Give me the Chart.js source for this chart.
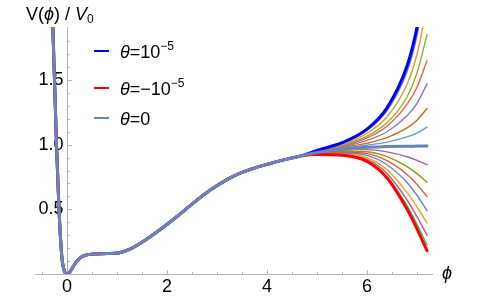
<!DOCTYPE html>
<html>
<head>
<meta charset="utf-8">
<script src="https://cdn.jsdelivr.net/npm/chart.js@4.4.1/dist/chart.umd.min.js"></script>
<style>
  html, body { margin: 0; padding: 0; background: #fff; }
  canvas { display: block; }
</style>
</head>
<body>
<canvas id="chart" width="488" height="299"></canvas>
<script>
// shared part of every curve (theta has no visible effect here)
const basePhi = [-0.30, -0.27, -0.25, -0.23, -0.21, -0.185, -0.16, -0.13, -0.10, -0.07, -0.04, 0,
  0.06, 0.12, 0.2, 0.3, 0.4, 0.55, 0.8, 1.05, 1.25, 1.5, 1.85, 2.2, 2.5, 2.85, 3.2, 3.5, 3.85, 4.05, 4.4, 4.7];
const baseV = [2.1, 1.75, 1.5, 1.25, 1.0, 0.75, 0.5, 0.28, 0.12, 0.045, 0.012, 0,
  0.018, 0.055, 0.10, 0.135, 0.148, 0.155, 0.158, 0.165, 0.19, 0.245, 0.34, 0.445, 0.54, 0.645, 0.73, 0.785, 0.832, 0.853, 0.888, 0.915];

// where the curves fan out
const tailPhi = [5.0, 5.5, 6.0, 6.4, 6.8, 7.0, 7.2];
const tailZero = [0.94, 0.965, 0.98, 0.985, 0.988, 0.989, 0.99];
const tailPlus = [0.955, 1.015, 1.12, 1.285, 1.608, 1.909, 2.39];
const tailMinus = [0.925, 0.918, 0.87, 0.742, 0.502, 0.349, 0.18];

// the 15 thin curves, theta from 1e-5 down to -1e-5
const fanTails = [
  [0.954, 1.011, 1.11, 1.263, 1.564, 1.843, 2.29],
  [0.952, 1.004, 1.088, 1.216, 1.466, 1.699, 2.07],
  [0.95, 0.996, 1.066, 1.169, 1.369, 1.554, 1.85],
  [0.948, 0.991, 1.053, 1.143, 1.311, 1.444, 1.65],
  [0.946, 0.984, 1.033, 1.10, 1.223, 1.32, 1.47],
  [0.944, 0.977, 1.012, 1.055, 1.13, 1.189, 1.28],
  [0.942, 0.971, 0.996, 1.02, 1.06, 1.089, 1.136],
  [0.94, 0.965, 0.979, 0.983, 0.985, 0.985, 0.985],
  [0.937, 0.956, 0.962, 0.944, 0.907, 0.879, 0.845],
  [0.935, 0.948, 0.945, 0.907, 0.831, 0.776, 0.71],
  [0.933, 0.942, 0.931, 0.876, 0.77, 0.693, 0.60],
  [0.931, 0.936, 0.917, 0.845, 0.708, 0.609, 0.49],
  [0.929, 0.930, 0.899, 0.806, 0.631, 0.519, 0.395],
  [0.927, 0.925, 0.886, 0.778, 0.574, 0.444, 0.30],
  [0.926, 0.921, 0.876, 0.755, 0.529, 0.385, 0.225]
];
const fanColors = ['#5E81B5', '#E19C24', '#8FB032', '#EB6235', '#8778B3', '#C56E1A', '#5D9EC7', '#FFBF00',
  '#A5609D', '#929600', '#E95536', '#6685D9', '#F89F13', '#BC5B80', '#47B66D'];

const xMajor = [0, 2, 4, 6];
const xLabels = ['0', '2', '4', '6'];
const xMinor = [-0.5, 0.5, 1, 1.5, 2.5, 3, 3.5, 4.5, 5, 5.5, 6.5, 7];
const yMajor = [0.5, 1.0, 1.5];
const yLabels = ['0.5', '1.0', '1.5'];
const yMinor = [0.1, 0.2, 0.3, 0.4, 0.6, 0.7, 0.8, 0.9, 1.1, 1.2, 1.3, 1.4, 1.6, 1.7, 1.8];

const FONT = '"Liberation Sans", Arial, sans-serif';
const ZERO_COLOR = 'rgb(102,133,192)';

function curve(tail) {
  const pts = basePhi.map((x, i) => ({ x, y: baseV[i] }));
  return pts.concat(tailPhi.map((x, i) => ({ x, y: tail[i] })));
}

const datasets = [
  { data: curve(tailZero), borderColor: ZERO_COLOR, borderWidth: 3, order: 0 },
  { data: curve(tailMinus), borderColor: '#ff0000', borderWidth: 3, order: 1 },
  { data: curve(tailPlus), borderColor: '#0000ff', borderWidth: 3, order: 2 }
];
fanTails.forEach((tail, i) => {
  datasets.push({ data: curve(tail), borderColor: fanColors[i], borderWidth: 1.4, order: 3 + i });
});

// draw a run of text pieces, some italic / raised / lowered
function drawRich(ctx, x, y, parts) {
  parts.forEach((p) => {
    ctx.font = (p.italic ? 'italic ' : '') + (p.size || 18) + 'px ' + FONT;
    ctx.fillText(p.t, x, y + (p.dy || 0));
    x += ctx.measureText(p.t).width + (p.gap || 0);
  });
}

const axesPlugin = {
  id: 'mmaAxes',
  beforeDatasetsDraw(chart) {
    const { ctx, chartArea, scales: { x, y } } = chart;
    const x0 = Math.round(x.getPixelForValue(0)) + 0.5;
    const y0 = Math.round(y.getPixelForValue(0)) + 0.5;
    ctx.save();
    ctx.strokeStyle = '#b3b3b3';
    ctx.lineWidth = 1;
    ctx.beginPath();
    ctx.moveTo(chartArea.left, y0);
    ctx.lineTo(chartArea.right, y0);
    ctx.moveTo(x0, chartArea.top);
    ctx.lineTo(x0, chartArea.bottom);
    xMajor.forEach((v) => { const p = Math.round(x.getPixelForValue(v)) + 0.5; ctx.moveTo(p, y0); ctx.lineTo(p, y0 - 4.5); });
    xMinor.forEach((v) => { const p = Math.round(x.getPixelForValue(v)) + 0.5; ctx.moveTo(p, y0); ctx.lineTo(p, y0 - 2.5); });
    yMajor.forEach((v) => { const p = Math.round(y.getPixelForValue(v)) + 0.5; ctx.moveTo(x0, p); ctx.lineTo(x0 + 4.5, p); });
    yMinor.forEach((v) => { const p = Math.round(y.getPixelForValue(v)) + 0.5; ctx.moveTo(x0, p); ctx.lineTo(x0 + 2.5, p); });
    ctx.stroke();

    ctx.fillStyle = '#000';
    ctx.font = '18px ' + FONT;
    ctx.textBaseline = 'middle';
    ctx.textAlign = 'center';
    xMajor.forEach((v, i) => ctx.fillText(xLabels[i], x.getPixelForValue(v), y0 + 13));
    ctx.textAlign = 'right';
    yMajor.forEach((v, i) => ctx.fillText(yLabels[i], x0 - 4, y.getPixelForValue(v)));
    ctx.restore();
  },
  afterDraw(chart) {
    const { ctx } = chart;
    ctx.save();
    ctx.fillStyle = '#000';
    ctx.textBaseline = 'alphabetic';
    ctx.textAlign = 'left';
    // axis titles
    drawRich(ctx, 26, 20, [
      { t: 'V(' }, { t: '\u03d5', italic: true }, { t: ') / ' }, { t: 'V', italic: true }, { t: '0', size: 12, dy: 3 }
    ]);
    drawRich(ctx, 442, 279, [{ t: '\u03d5', italic: true }]);

    // legend
    const rows = [
      { y: 51, color: '#0000ff', parts: [{ t: '\u03b8', italic: true }, { t: '=10' }, { t: '\u22125', size: 12, dy: -8 }] },
      { y: 88, color: '#ff0000', parts: [{ t: '\u03b8', italic: true }, { t: '=\u221210' }, { t: '\u22125', size: 12, dy: -8 }] },
      { y: 118, color: ZERO_COLOR, parts: [{ t: '\u03b8', italic: true }, { t: '=0' }] }
    ];
    rows.forEach((r) => {
      ctx.strokeStyle = r.color;
      ctx.lineWidth = 2;
      ctx.beginPath();
      ctx.moveTo(94, r.y);
      ctx.lineTo(109, r.y);
      ctx.stroke();
      drawRich(ctx, 120, r.y + 6.5, r.parts);
    });
    ctx.restore();
  }
};

new Chart(document.getElementById('chart'), {
  type: 'line',
  data: { datasets },
  options: {
    responsive: false,
    animation: false,
    layout: { padding: { left: 35, right: 55, top: 27, bottom: 25 } },
    elements: {
      point: { radius: 0 },
      line: { cubicInterpolationMode: 'monotone', borderCapStyle: 'round' }
    },
    scales: {
      x: { type: 'linear', min: -0.64, max: 7.32, display: false },
      y: { type: 'linear', min: 0, max: 1.91, display: false }
    },
    plugins: { legend: { display: false }, tooltip: { enabled: false } }
  },
  plugins: [axesPlugin]
});
</script>
</body>
</html>
